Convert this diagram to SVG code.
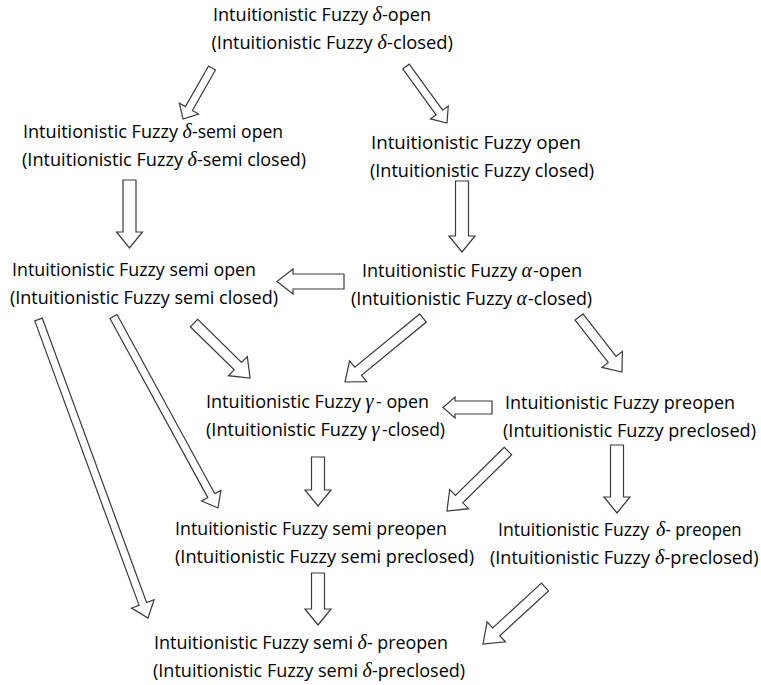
<svg xmlns="http://www.w3.org/2000/svg" width="761" height="685" viewBox="0 0 761 685">
<style>
text{font-family:"Open Sans","Noto Sans","Liberation Sans",sans-serif;font-size:18.5px;fill:#000;}
text.g{font-family:"Liberation Serif","DejaVu Serif",serif;font-style:italic;font-size:20px;}
.arr polygon{fill:#fff;stroke:#3a3a3a;stroke-width:1.2;stroke-linejoin:miter;}
</style>
<rect width="761" height="685" fill="#fff"/>
<g id="n_delta_open">
<text x="213" y="21" textLength="155" lengthAdjust="spacingAndGlyphs">Intuitionistic Fuzzy</text>
<text class="g" x="372.5" y="21">δ</text>
<text x="382" y="21" textLength="49" lengthAdjust="spacingAndGlyphs">-open</text>
<text x="211.5" y="49" textLength="161" lengthAdjust="spacingAndGlyphs">(Intuitionistic Fuzzy</text>
<text class="g" x="377.5" y="49">δ</text>
<text x="387" y="49" textLength="66" lengthAdjust="spacingAndGlyphs">-closed)</text>
</g>
<g id="n_delta_semi_open">
<text x="23" y="138" textLength="155" lengthAdjust="spacingAndGlyphs">Intuitionistic Fuzzy</text>
<text class="g" x="182.5" y="138">δ</text>
<text x="192" y="138" textLength="91" lengthAdjust="spacingAndGlyphs">-semi open</text>
<text x="22" y="166" textLength="161" lengthAdjust="spacingAndGlyphs">(Intuitionistic Fuzzy</text>
<text class="g" x="187.5" y="166">δ</text>
<text x="197" y="166" textLength="109" lengthAdjust="spacingAndGlyphs">-semi closed)</text>
</g>
<g id="n_open">
<text x="371" y="149" textLength="210" lengthAdjust="spacingAndGlyphs">Intuitionistic Fuzzy open</text>
<text x="370" y="177" textLength="224" lengthAdjust="spacingAndGlyphs">(Intuitionistic Fuzzy closed)</text>
</g>
<g id="n_semi_open">
<text x="12" y="276" textLength="244" lengthAdjust="spacingAndGlyphs">Intuitionistic Fuzzy semi open</text>
<text x="10" y="304" textLength="268" lengthAdjust="spacingAndGlyphs">(Intuitionistic Fuzzy semi closed)</text>
</g>
<g id="n_alpha_open">
<text x="362" y="277" textLength="155" lengthAdjust="spacingAndGlyphs">Intuitionistic Fuzzy</text>
<text class="g" x="521.5" y="277">α</text>
<text x="533" y="277" textLength="49" lengthAdjust="spacingAndGlyphs">-open</text>
<text x="351" y="305" textLength="161" lengthAdjust="spacingAndGlyphs">(Intuitionistic Fuzzy</text>
<text class="g" x="516.5" y="305">α</text>
<text x="528" y="305" textLength="64" lengthAdjust="spacingAndGlyphs">-closed)</text>
</g>
<g id="n_gamma_open">
<text x="206" y="408" textLength="155" lengthAdjust="spacingAndGlyphs">Intuitionistic Fuzzy</text>
<text class="g" x="365.5" y="408">γ</text>
<text x="376" y="408" textLength="53" lengthAdjust="spacingAndGlyphs">- open</text>
<text x="206" y="436" textLength="161" lengthAdjust="spacingAndGlyphs">(Intuitionistic Fuzzy</text>
<text class="g" x="371.5" y="436">γ</text>
<text x="382" y="436" textLength="63" lengthAdjust="spacingAndGlyphs">-closed)</text>
</g>
<g id="n_preopen">
<text x="505" y="409" textLength="230" lengthAdjust="spacingAndGlyphs">Intuitionistic Fuzzy preopen</text>
<text x="503" y="437" textLength="253" lengthAdjust="spacingAndGlyphs">(Intuitionistic Fuzzy preclosed)</text>
</g>
<g id="n_semi_preopen">
<text x="175" y="535" textLength="272" lengthAdjust="spacingAndGlyphs">Intuitionistic Fuzzy semi preopen</text>
<text x="175" y="563" textLength="299" lengthAdjust="spacingAndGlyphs">(Intuitionistic Fuzzy semi preclosed)</text>
</g>
<g id="n_delta_preopen">
<text x="498" y="536" textLength="151" lengthAdjust="spacingAndGlyphs">Intuitionistic Fuzzy</text>
<text class="g" x="656" y="536">δ</text>
<text x="665.5" y="536" textLength="76" lengthAdjust="spacingAndGlyphs">- preopen</text>
<text x="490" y="564" textLength="160" lengthAdjust="spacingAndGlyphs">(Intuitionistic Fuzzy</text>
<text class="g" x="655" y="564">δ</text>
<text x="664.5" y="564" textLength="94" lengthAdjust="spacingAndGlyphs">-preclosed)</text>
</g>
<g id="n_semi_delta_preopen">
<text x="154" y="649" textLength="199" lengthAdjust="spacingAndGlyphs">Intuitionistic Fuzzy semi</text>
<text class="g" x="357.5" y="649">δ</text>
<text x="367" y="649" textLength="81" lengthAdjust="spacingAndGlyphs">- preopen</text>
<text x="153" y="677" textLength="205" lengthAdjust="spacingAndGlyphs">(Intuitionistic Fuzzy semi</text>
<text class="g" x="362.5" y="677">δ</text>
<text x="372" y="677" textLength="93" lengthAdjust="spacingAndGlyphs">-preclosed)</text>
</g>
<g id="connectors" class="arr">
<polygon points="208.52,66.02 185.45,106.59 179.37,103.13 183,119 198.49,114.01 192.41,110.55 215.48,69.98"/>
<polygon points="402.76,68.85 436.13,114.83 430.47,118.94 447,123 448.27,106.02 442.61,110.13 409.24,64.15"/>
<polygon points="123,180 123,232 116.5,232 129.5,248 142.5,232 136,232 136,180"/>
<polygon points="455.5,181 455.5,236 449,236 462,252 475,236 468.5,236 468.5,181"/>
<polygon points="344,274 293,274 293,269 277,281.5 293,294 293,289 344,289"/>
<polygon points="190.32,326.75 234.19,369.84 228.41,375.72 250,378 247.33,356.46 241.55,362.34 197.68,319.25"/>
<polygon points="419.67,313.94 354.81,367.16 349.58,360.78 345,382 366.70,381.66 361.47,375.28 426.33,322.06"/>
<polygon points="575.06,320.08 608.21,362.48 601.91,367.41 622,372 622.39,351.39 616.09,356.32 582.94,313.92"/>
<polygon points="492,401 455,401 455,397 443,407.5 455,418 455,414 492,414"/>
<polygon points="311.5,457 311.5,490 305,490 318,506 331,490 324.5,490 324.5,457"/>
<polygon points="504.32,447.26 455.44,495.34 449.65,489.46 447,511 468.59,508.70 462.80,502.82 511.68,454.74"/>
<polygon points="610.5,445 610.5,497 604,497 617,513 630,497 623.5,497 623.5,445"/>
<polygon points="311.5,573 311.5,609 305,609 318,625 331,609 324.5,609 324.5,573"/>
<polygon points="541.45,583.14 492.70,627.95 487.11,621.88 483,644 505.39,641.76 499.80,635.69 548.55,590.87"/>
<polygon points="109.99,318.42 207.78,497.63 201.64,500.98 218,508 220.95,490.44 214.80,493.79 117.01,314.58"/>
<polygon points="34.75,320.88 139.08,605.30 131.56,608.05 148,618 154.10,599.79 146.59,602.54 42.26,318.12"/>
</g>
</svg>
